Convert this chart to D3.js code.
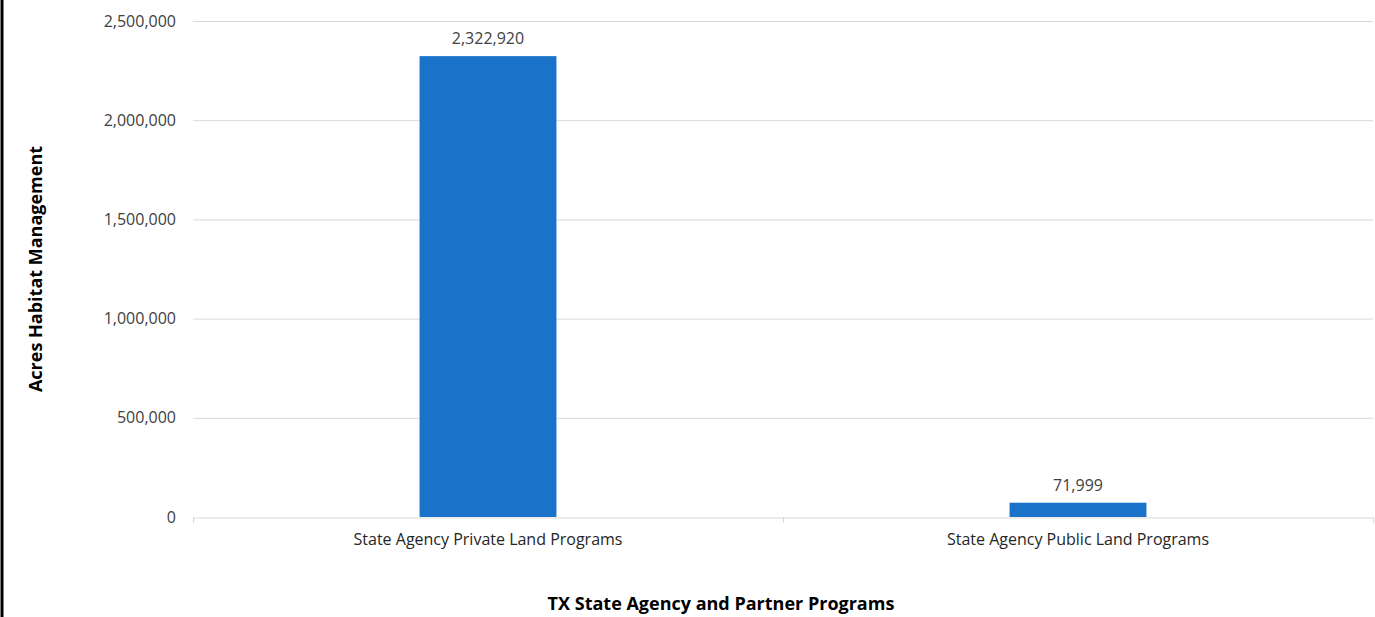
<!DOCTYPE html>
<html>
<head>
<meta charset="utf-8">
<script src="https://cdn.jsdelivr.net/npm/d3@7"></script>
<style>
  html, body { margin: 0; padding: 0; background: #fff; }
  svg { display: block; }
</style>
</head>
<body>
<svg id="chart" width="1375" height="617"></svg>
<script>
// Acres of habitat management by program type
const categories = ["State Agency Private Land Programs", "State Agency Public Land Programs"];
const acres = [2322920, 71999];
const yTicks = [0, 500000, 1000000, 1500000, 2000000, 2500000];

const W = 1375, H = 617;
const margin = { left: 193, right: 2, top: 21, bottom: 100 };
const svg = d3.select("#chart");
const font = "'Open Sans', 'Noto Sans', sans-serif";
const labelSize = 16;
const titleSize = 18;

// frame line on the left edge
svg.append("line")
  .attr("x1", 2).attr("x2", 2).attr("y1", 0).attr("y2", H)
  .attr("stroke", "#000").attr("stroke-width", 3);

const x = d3.scaleBand()
  .domain(categories)
  .range([margin.left, W - margin.right])
  .paddingInner(0).paddingOuter(0);

const y = d3.scaleLinear()
  .domain([0, 2500000])
  .range([H - margin.bottom, margin.top]);

const fmt = d3.format(",");

// gridlines
svg.append("g")
  .selectAll("line")
  .data(yTicks.filter(d => d > 0))
  .join("line")
  .attr("x1", margin.left).attr("x2", W - margin.right)
  .attr("y1", d => y(d) + 0.5).attr("y2", d => y(d) + 0.5)
  .attr("stroke", "#d9d9d9").attr("stroke-width", 1);

// y axis labels
const yAxis = d3.axisLeft(y).tickValues(yTicks).tickFormat(fmt).tickSize(0).tickPadding(17);
const gy = svg.append("g").attr("transform", `translate(${margin.left},0)`).call(yAxis);
gy.select(".domain").remove();
gy.selectAll("text")
  .attr("font-family", font).attr("font-size", labelSize).attr("fill", "#404040");

// category axis along zero
const xAxis = d3.axisBottom(x).tickSize(0).tickPadding(16);
const gx = svg.append("g").attr("transform", `translate(0,${y(0) + 0.5})`).call(xAxis);
gx.select(".domain").attr("stroke", "#d9d9d9");
gx.selectAll(".tick line").remove();
gx.selectAll("text")
  .attr("font-family", font).attr("font-size", labelSize).attr("fill", "#262626");

// category boundary ticks
const bounds = [margin.left, ...categories.map(c => x(c) + x.bandwidth())];
svg.append("g").selectAll("line")
  .data(bounds)
  .join("line")
  .attr("x1", d => Math.round(d) + 0.5).attr("x2", d => Math.round(d) + 0.5)
  .attr("y1", y(0)).attr("y2", y(0) + 6)
  .attr("stroke", "#d9d9d9");

// bars
const barW = x.bandwidth() * 0.232;
svg.append("g").selectAll("rect")
  .data(categories)
  .join("rect")
  .attr("x", (c) => x(c) + (x.bandwidth() - barW) / 2)
  .attr("width", barW)
  .attr("y", (c, i) => y(acres[i]))
  .attr("height", (c, i) => y(0) - y(acres[i]))
  .attr("fill", "#1a73c9");

// value labels
svg.append("g").selectAll("text")
  .data(categories)
  .join("text")
  .attr("x", c => x(c) + x.bandwidth() / 2)
  .attr("y", (c, i) => y(acres[i]) - 12)
  .attr("text-anchor", "middle")
  .attr("font-family", font).attr("font-size", labelSize).attr("fill", "#404040")
  .text((c, i) => fmt(acres[i]));

// axis titles
svg.append("text")
  .attr("transform", `translate(42,${(y(0) + y(2500000)) / 2}) rotate(-90)`)
  .attr("text-anchor", "middle")
  .attr("font-family", font).attr("font-size", titleSize).attr("font-weight", "bold").attr("fill", "#000")
  .text("Acres Habitat Management");

svg.append("text")
  .attr("x", 721).attr("y", 610)
  .attr("text-anchor", "middle")
  .attr("font-family", font).attr("font-size", titleSize).attr("font-weight", "bold").attr("fill", "#000")
  .text("TX State Agency and Partner Programs");
</script>
</body>
</html>
